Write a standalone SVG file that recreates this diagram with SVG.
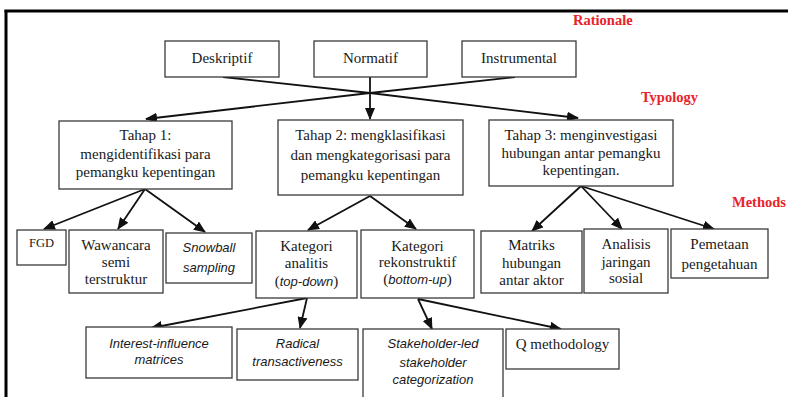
<svg xmlns="http://www.w3.org/2000/svg" width="788" height="397" viewBox="0 0 788 397">
<defs>
<style>
.box{fill:#fff;stroke:#3a3a3a;stroke-width:1.3}
.t{font-family:'Liberation Serif','DejaVu Serif',serif;font-size:15px;fill:#1a1a1a;text-anchor:middle}
.i{font-family:'Liberation Sans',Arial,sans-serif;font-style:italic;font-size:13px;fill:#1a1a1a;text-anchor:middle}
.red{font-family:'Liberation Serif','DejaVu Serif',serif;font-weight:bold;font-size:14.5px;fill:#e8232a}
.ln{stroke:#111;stroke-width:1.8;fill:none}
.ar{stroke:#111;stroke-width:1.8;fill:none;marker-end:url(#ah)}
</style>
<marker id="ah" markerUnits="userSpaceOnUse" markerWidth="12" markerHeight="10" refX="11" refY="5" orient="auto">
<path d="M0,0 L12,5 L0,10 Z" fill="#111"/>
</marker>
</defs>
<rect width="788" height="397" fill="#fff"/>
<g id="frame">
<line x1="4.5" y1="11" x2="788" y2="11" stroke="#000" stroke-width="3"/>
<line x1="6" y1="10" x2="6" y2="397" stroke="#000" stroke-width="3"/>
</g>
<g id="labels">
<text class="red" x="573" y="25">Rationale</text>
<text class="red" x="641" y="102">Typology</text>
<text class="red" x="732" y="207">Methods</text>
</g>
<g id="connectors">
<line class="ln" x1="223" y1="77" x2="370" y2="93"/>
<line class="ar" x1="370" y1="93" x2="578" y2="118"/>
<line class="ln" x1="515" y1="77" x2="370" y2="93"/>
<line class="ar" x1="370" y1="93" x2="146" y2="119"/>
<line class="ar" x1="370" y1="77" x2="370" y2="119"/>
<line class="ar" x1="145" y1="189" x2="44" y2="229"/>
<line class="ar" x1="145" y1="189" x2="118" y2="229"/>
<line class="ar" x1="145" y1="189" x2="205" y2="232"/>
<line class="ar" x1="370" y1="196" x2="308" y2="230"/>
<line class="ar" x1="370" y1="196" x2="416" y2="229"/>
<line class="ar" x1="581" y1="186" x2="532" y2="231"/>
<line class="ar" x1="581" y1="186" x2="622" y2="229"/>
<line class="ar" x1="581" y1="186" x2="714" y2="229"/>
<line class="ar" x1="307" y1="298" x2="151" y2="328"/>
<line class="ar" x1="307" y1="298" x2="300" y2="328"/>
<line class="ar" x1="418" y1="299" x2="432" y2="329"/>
<line class="ar" x1="418" y1="299" x2="561" y2="329"/>
</g>
<g id="deskriptif"><rect class="box" x="165" y="41" width="114" height="36"/><text class="t" x="222" y="63">Deskriptif</text></g>
<g id="normatif"><rect class="box" x="314" y="41" width="113" height="36"/><text class="t" x="370.5" y="63">Normatif</text></g>
<g id="instrumental"><rect class="box" x="462" y="41" width="114" height="36"/><text class="t" x="519" y="63">Instrumental</text></g>
<g id="tahap1"><rect class="box" x="59" y="121" width="173" height="68"/>
<text class="t" x="145.5" y="140">Tahap 1:</text><text class="t" x="145.5" y="158.5">mengidentifikasi para</text><text class="t" x="145.5" y="177">pemangku kepentingan</text></g>
<g id="tahap2"><rect class="box" x="278" y="120" width="185" height="75"/>
<text class="t" x="370.5" y="140">Tahap 2: mengklasifikasi</text><text class="t" x="370.5" y="160">dan mengkategorisasi para</text><text class="t" x="370.5" y="180">pemangku kepentingan</text></g>
<g id="tahap3"><rect class="box" x="489" y="120" width="184" height="66"/>
<text class="t" x="581" y="140">Tahap 3: menginvestigasi</text><text class="t" x="581" y="157.5">hubungan antar pemangku</text><text class="t" x="581" y="175">kepentingan.</text></g>
<g id="fgd"><rect class="box" x="17" y="230" width="49" height="35"/><text class="t" x="41.5" y="247" style="font-size:12.5px">FGD</text></g>
<g id="wawancara"><rect class="box" x="69" y="230" width="94" height="63"/>
<text class="t" x="116" y="250">Wawancara</text><text class="t" x="116" y="267">semi</text><text class="t" x="116" y="284">terstruktur</text></g>
<g id="snowball"><rect class="box" x="166" y="233" width="86" height="50"/>
<text class="i" x="209" y="251.5">Snowball</text><text class="i" x="209" y="271.5">sampling</text></g>
<g id="analitis"><rect class="box" x="256" y="231" width="101" height="67"/>
<text class="t" x="306.5" y="251">Kategori</text><text class="t" x="306.5" y="268">analitis</text><text class="t" x="306.5" y="286">(<tspan class="i" style="text-anchor:start">top-down</tspan>)</text></g>
<g id="rekonstruktif"><rect class="box" x="361" y="230" width="113" height="68"/>
<text class="t" x="417.5" y="251">Kategori</text><text class="t" x="417.5" y="267">rekonstruktif</text><text class="t" x="417.5" y="284">(<tspan class="i" style="text-anchor:start">bottom-up</tspan>)</text></g>
<g id="matriks"><rect class="box" x="481" y="231" width="101" height="62"/>
<text class="t" x="531.5" y="250">Matriks</text><text class="t" x="531.5" y="268">hubungan</text><text class="t" x="531.5" y="285">antar aktor</text></g>
<g id="analisis"><rect class="box" x="584" y="229" width="84" height="64"/>
<text class="t" x="626" y="249">Analisis</text><text class="t" x="626" y="267">jaringan</text><text class="t" x="626" y="283">sosial</text></g>
<g id="pemetaan"><rect class="box" x="671" y="229" width="97" height="49"/>
<text class="t" x="719.5" y="249">Pemetaan</text><text class="t" x="719.5" y="269">pengetahuan</text></g>
<g id="interest"><rect class="box" x="86" y="327" width="146" height="51"/>
<text class="i" x="159" y="347.5">Interest-influence</text><text class="i" x="159" y="363.5">matrices</text></g>
<g id="radical"><rect class="box" x="237" y="329" width="121" height="51"/>
<text class="i" x="297.5" y="347.5">Radical</text><text class="i" x="297.5" y="365.5">transactiveness</text></g>
<g id="stakeholder"><rect class="box" x="363" y="329" width="140" height="70"/>
<text class="i" x="433" y="347.5">Stakeholder-led</text><text class="i" x="433" y="366.5">stakeholder</text><text class="i" x="433" y="383.5">categorization</text></g>
<g id="qmethod"><rect class="box" x="506" y="329" width="113" height="40"/><text class="t" x="562.5" y="349">Q methodology</text></g>
</svg>
